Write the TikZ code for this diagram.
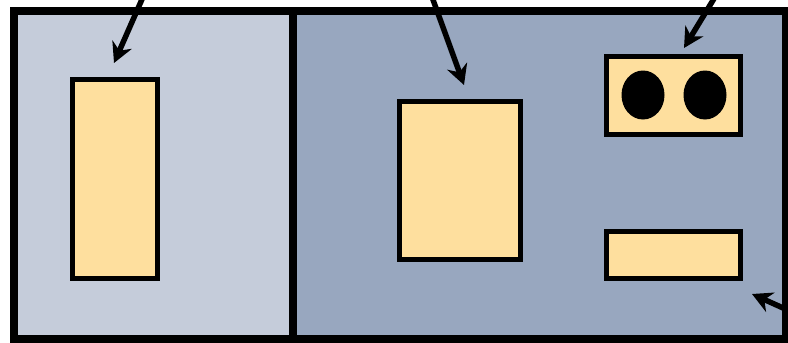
\documentclass[tikz,border=0pt]{standalone}
\usetikzlibrary{arrows.meta,shapes.geometric}
\definecolor{paleSlate}{HTML}{C5CCDA}
\definecolor{darkSlate}{HTML}{98A7BF}
\definecolor{peach}{HTML}{FEDF9E}

\begin{document}
\begin{tikzpicture}[x=1pt, y=-1pt,
  panel/.style={draw, line width=8pt, inner sep=0pt},
  part/.style={draw, line width=5.5pt, fill=peach, inner sep=0pt},
  hole/.style={ellipse, fill=black, inner sep=0pt, minimum width=43pt, minimum height=49pt},
  arr/.style={-{Stealth[length=20pt, width=21pt]}, line width=5.5pt}]
\useasboundingbox (0,0) rectangle (788,343);
\node[panel, fill=paleSlate, minimum width=279pt, minimum height=328pt] (left) at (153.5,175) {};
\node[panel, fill=darkSlate, minimum width=493pt, minimum height=328pt] (right) at (539.5,175) {};
\node[part, minimum width=85pt, minimum height=199pt] (tall) at (115,179) {};
\node[part, minimum width=121pt, minimum height=158pt] (square) at (460,180.5) {};
\node[part, minimum width=134pt, minimum height=78pt] (panelTop) at (673.5,95.5) {};
\node[part, minimum width=134pt, minimum height=47pt] (panelLow) at (673.5,255) {};
\node[hole] (holeA) at (643,95) {};
\node[hole] (holeB) at (705,95) {};
% pointers coming in from outside
\coordinate (fromA) at (143,-3);  \coordinate (toA) at (114,63);
\coordinate (fromB) at (432,-3);  \coordinate (toB) at (464,85);
\coordinate (fromC) at (715,-3);  \coordinate (toC) at (684,48);
\coordinate (fromD) at (792,312); \coordinate (toD) at (752,294);
\foreach \a/\b in {fromA/toA, fromB/toB, fromC/toC, fromD/toD} \draw[arr] (\a) -- (\b);
\end{tikzpicture}
\end{document}
